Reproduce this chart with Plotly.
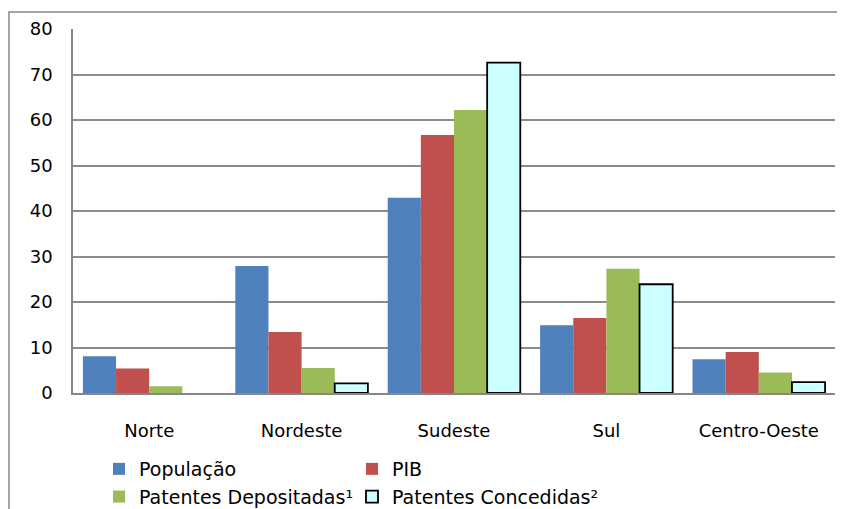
import plotly.graph_objects as go

categories = ["Norte", "Nordeste", "Sudeste", "Sul", "Centro-Oeste"]
populacao = [8.1, 27.9, 42.9, 14.9, 7.4]
pib = [5.4, 13.4, 56.7, 16.5, 9.0]
patentes_depositadas = [1.5, 5.5, 62.2, 27.3, 4.5]
patentes_concedidas = [None, 2.1, 72.6, 23.9, 2.4]
y_ticks = [0, 10, 20, 30, 40, 50, 60, 70, 80]

# page body has an 8px margin: figure is drawn from (8, 8)
OFF = 8
W, H = 845 - OFF, 509 - OFF
L, T = 73 - OFF, 29 - OFF
R = W - (835 - OFF)
B = H - (393 - OFF)
pw = W - L - R
ph = H - T - B

def px_x(p):
    return (p - OFF - L) / pw

def px_y(p):
    return (H - B - (p - OFF)) / ph

font_family = "DejaVu Sans"

fig = go.Figure()
fig.add_bar(name="População", x=categories, y=populacao, legend="legend",
            marker=dict(color="#4F81BD", line=dict(width=0)))
fig.add_bar(name="PIB", x=categories, y=pib, legend="legend2",
            marker=dict(color="#C0504D", line=dict(width=0)))
fig.add_bar(name="Patentes Depositadas¹", x=categories, y=patentes_depositadas, legend="legend",
            marker=dict(color="#9BBB59", line=dict(width=0)))
fig.add_bar(name="Patentes Concedidas²", x=categories, y=patentes_concedidas, legend="legend2",
            marker=dict(color="#CCFFFF", line=dict(color="#000000", width=1.8)))

legend_common = dict(
    orientation="v", xanchor="left", yanchor="top", itemwidth=30,
    font=dict(family=font_family, size=19, color="#000000"),
    traceorder="normal", bgcolor="rgba(0,0,0,0)", tracegroupgap=0,
)

fig.update_layout(
    width=W, height=H,
    margin=dict(l=L, r=R, t=T, b=B, autoexpand=False),
    paper_bgcolor="white", plot_bgcolor="white",
    barmode="group", bargap=0.13, bargroupgap=0,
    font=dict(family=font_family, size=18, color="#000000"),
    showlegend=True,
    legend=dict(x=px_x(99), y=px_y(450), **legend_common),
    legend2=dict(x=px_x(352), y=px_y(450), **legend_common),
    xaxis=dict(
        showline=True, linecolor="#868686", linewidth=1.5,
        showgrid=False, ticks="", ticklabelstandoff=21,
        tickfont=dict(family=font_family, size=18),
    ),
    yaxis=dict(
        range=[0, 80], tickvals=y_ticks, ticktext=[str(v) for v in y_ticks],
        showgrid=True, gridcolor="#8c8c8c", gridwidth=1.5,
        showline=True, linecolor="#868686", linewidth=1.5,
        ticks="", ticklabelstandoff=15, zeroline=False,
        tickfont=dict(family=font_family, size=18),
    ),
    shapes=[dict(
        type="rect", xref="paper", yref="paper",
        x0=px_x(9), x1=px_x(870), y0=px_y(540), y1=px_y(12),
        line=dict(color="#868686", width=1.5), fillcolor="rgba(0,0,0,0)", layer="below",
    )],
)

fig.write_html("out.html")
